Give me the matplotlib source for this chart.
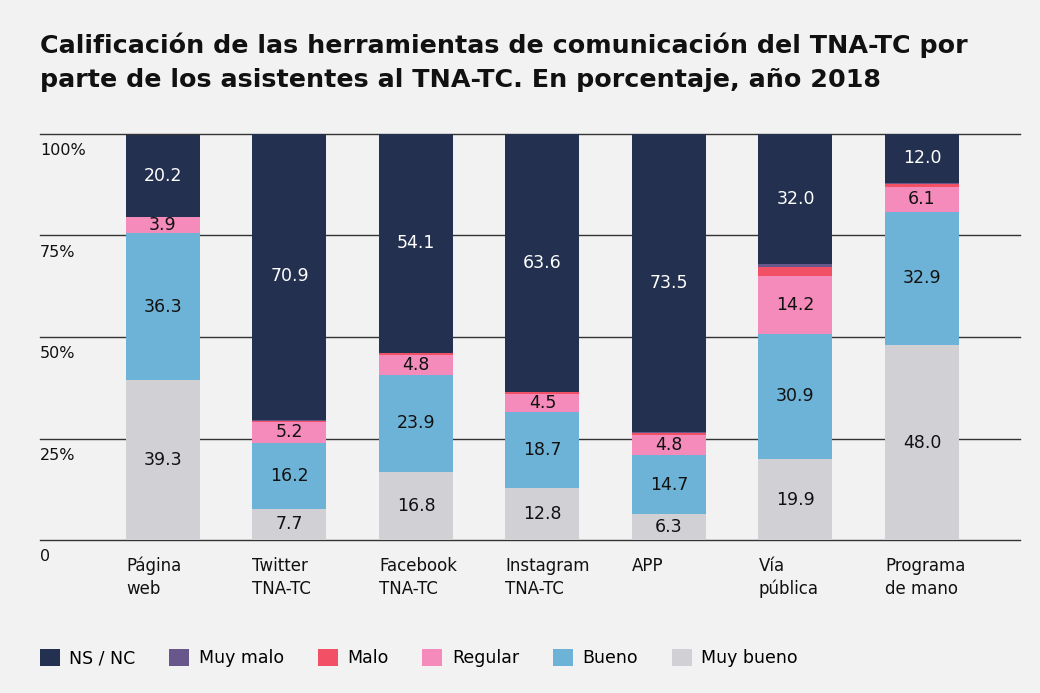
import matplotlib
matplotlib.use("Agg")
import matplotlib.pyplot as plt
from matplotlib.patches import Patch
import numpy as np

categories = ["Página\nweb", "Twitter\nTNA-TC", "Facebook\nTNA-TC", "Instagram\nTNA-TC",
              "APP", "Vía\npública", "Programa\nde mano"]
series_names = ["NS / NC", "Muy malo", "Malo", "Regular", "Bueno", "Muy bueno"]

muy_bueno = [39.3, 7.7, 16.8, 12.8, 6.3, 19.9, 48.0]
bueno     = [36.3, 16.2, 23.9, 18.7, 14.7, 30.9, 32.9]
regular   = [3.9, 5.2, 4.8, 4.5, 4.8, 14.2, 6.1]
malo      = [0.0, 0.3, 0.6, 0.4, 0.5, 2.3, 0.6]
muy_malo  = [0.0, 0.2, 0.0, 0.0, 0.3, 0.7, 0.4]
ns_nc     = [20.2, 70.9, 54.1, 63.6, 73.5, 32.0, 12.0]

y_ticks = [0, 25, 50, 75, 100]
y_tick_labels = ["0", "25%", "50%", "75%", "100%"]

colors = {
    "NS / NC": "#243050",
    "Muy malo": "#67578a",
    "Malo": "#f25064",
    "Regular": "#f48bba",
    "Bueno": "#6db3d7",
    "Muy bueno": "#d1d1d5",
}
label_colors = {"NS / NC": "white", "Regular": "#111111", "Bueno": "#111111", "Muy bueno": "#111111"}

bg = "#f2f2f2"
plt.rcParams['font.family'] = ['DejaVu Sans']

fig = plt.figure(figsize=(10.4, 6.93), dpi=100, facecolor=bg)
ax = fig.add_axes([40/1040, 1-540/693, 980/1040, 406/693])
ax.set_facecolor(bg)

x = np.arange(len(categories))
width = 0.585
stack_order = [("Muy bueno", muy_bueno), ("Bueno", bueno), ("Regular", regular),
               ("Malo", malo), ("Muy malo", muy_malo), ("NS / NC", ns_nc)]
bottom = np.zeros(len(categories))
for name, vals in stack_order:
    vals = np.array(vals)
    ax.bar(x, vals, width, bottom=bottom, color=colors[name], zorder=3, linewidth=0)
    if name in label_colors:
        for xi, b, v in zip(x, bottom, vals):
            ax.text(xi, b + v/2, f"{v:.1f}", ha="center", va="center",
                    fontsize=12.5, color=label_colors[name], zorder=4)
    bottom += vals

ax.set_xlim(-0.972, 6.775)
ax.set_ylim(0, 100)
for t in y_ticks:
    ax.axhline(t, color="#333333", linewidth=1.0, zorder=1, clip_on=False)
for t, lab in zip(y_ticks, y_tick_labels):
    ax.annotate(lab, xy=(0, t), xycoords=("axes fraction", "data"),
                xytext=(0, -6.5), textcoords="offset points",
                ha="left", va="top", fontsize=11.5, color="#111111")
for xi, lab in zip(x, categories):
    ax.annotate(lab, xy=(xi - width/2, 0), xycoords=("data", "axes fraction"),
                xytext=(0, -12), textcoords="offset points",
                ha="left", va="top", fontsize=12, color="#111111", linespacing=1.35)
ax.set_xticks([])
ax.set_yticks([])
for s in ax.spines.values():
    s.set_visible(False)

fig.text(40/1040, 1-33/693,
         "Calificación de las herramientas de comunicación del TNA-TC por\n"
         "parte de los asistentes al TNA-TC. En porcentaje, año 2018",
         ha="left", va="top", fontsize=18.3, fontweight="heavy", color="#111111",
         linespacing=1.5)

handles = [Patch(facecolor=colors[n], edgecolor="none") for n in series_names]
fig.legend(handles, series_names, loc="center left",
           bbox_to_anchor=(24/1040, 1-658/693), ncol=6, frameon=False,
           fontsize=12.5, handlelength=1.15, handleheight=1.15, handletextpad=0.55,
           columnspacing=1.95)

fig.savefig("out.png", dpi=100, facecolor=bg)
